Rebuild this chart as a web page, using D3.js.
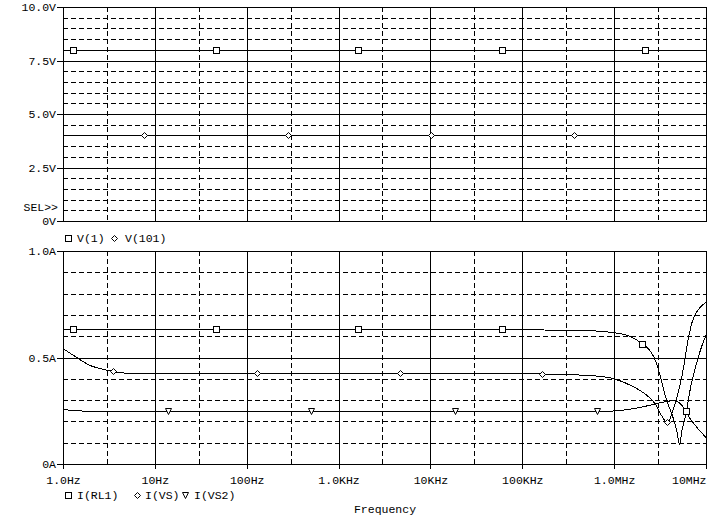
<!DOCTYPE html>
<html><head><meta charset="utf-8">
<script src="https://cdn.jsdelivr.net/npm/d3@7"></script>
<style>
html,body{margin:0;padding:0;background:#fff;}
svg{display:block;}
text{font-family:"Liberation Mono","DejaVu Sans Mono",monospace;font-size:11.5px;fill:#000;}
</style></head><body>
<svg id="c" width="715" height="518"></svg>
<script>
// ---------- DATA ----------
const freqTickLabels = ["1.0Hz","10Hz","100Hz","1.0KHz","10KHz","100KHz","1.0MHz","10MHz"];
const freqTickValues = [1,10,100,1e3,1e4,1e5,1e6,1e7];
const voltTickValues = [0,2.5,5,7.5,10];
const voltTickLabels = ["0V","2.5V","5.0V","7.5V","10.0V"];
const ampTickValues = [0,0.5,1];
const ampTickLabels = ["0A","0.5A","1.0A"];

// top panel traces
const v1Freq = [1, 1e7];
const v1Vals = [8, 8];
const v101Freq = [1, 1e7];
const v101Vals = [4, 4];
const v1Markers = [1.295, 46.4, 1641, 60600, 2.18e6];
const v101Markers = [7.62, 281, 10070, 365000];

// bottom panel traces
const rl1Freq = [1,10,100,1e3,1e4,1e5,3e5,5.5e5,7.0e5,9.7e5,1.49e6,2.01e6,2.45e6,2.9e6,3.16e6,3.73e6,4.23e6,4.8e6,5.15e6,5.48e6,6.05e6,6.86e6,7.78e6,8.82e6,1e7];
const rl1Vals = [0.632,0.632,0.632,0.632,0.632,0.632,0.631,0.629,0.625,0.619,0.601,0.566,0.535,0.474,0.418,0.301,0.240,0.161,0.095,0.161,0.240,0.371,0.465,0.544,0.605];
const vsFreq = [1,1.41,1.97,2.53,3.53,5.83,6.88,10,100,1e3,1e4,1e5,2.57e5,5.46e5,9.71e5,1.6e6,2.28e6,2.78e6,3.23e6,3.71e6,3.86e6,4.27e6,4.83e6,5.62e6,6.37e6,7.04e6,7.99e6,9.05e6,1e7];
const vsVals = [0.546,0.504,0.465,0.449,0.437,0.429,0.427,0.426,0.426,0.426,0.426,0.425,0.423,0.416,0.402,0.367,0.324,0.287,0.235,0.198,0.191,0.245,0.315,0.441,0.582,0.666,0.718,0.746,0.760];
const vs2Freq = [1,1.29,2.53,10,100,1e3,1e4,1e5,7.0e5,1.16e6,1.91e6,2.93e6,3.77e6,4.38e6,5.09e6,5.77e6,6.70e6,7.98e6,1e7];
const vs2Vals = [0.257,0.254,0.250,0.249,0.249,0.249,0.249,0.249,0.249,0.254,0.268,0.285,0.296,0.299,0.292,0.264,0.217,0.175,0.129];
const rl1Markers = [1.295, 46.4, 1641, 60600, 2.02e6, 6.1e6];
const vsMarkers = [3.53, 128, 4670, 165000, 3.73e6];
const vs2Markers = [14.0, 501, 18500, 645000];

// ---------- LAYOUT ----------
const L = 63, R = 706;
const svg = d3.select("#c");
const x = d3.scaleLog().domain([1,1e7]).range([L,R]);
const yTop = d3.scaleLinear().domain([0,10]).range([221,7]);
const yBot = d3.scaleLinear().domain([0,1]).range([464,251]);
const px = v => Math.round(v) + 0.5;

function valueAt(fs, vs, f){
  const lf = Math.log10(f);
  for (let i=0;i<fs.length-1;i++){
    const a=Math.log10(fs[i]), b=Math.log10(fs[i+1]);
    if (lf>=a && lf<=b){ const t=(lf-a)/(b-a); return vs[i]+(vs[i+1]-vs[i])*t; }
  }
  return vs[vs.length-1];
}

function drawMarker(g, type, cx, cy){
  cx = Math.round(cx); cy = Math.round(cy);
  const s = g.append("path").attr("fill","#fff").attr("stroke","#000").attr("stroke-width",1)
    .attr("shape-rendering","crispEdges");
  if (type==="square") s.attr("d",`M${cx-3+0.5},${cy-3+0.5}h6v6h-6Z`);
  else if (type==="diamond") s.attr("d",`M${cx+0.5},${cy-3+0.5}L${cx+3.5},${cy+0.5}L${cx+0.5},${cy+3.5}L${cx-2.5},${cy+0.5}Z`).attr("shape-rendering","auto");
  else s.attr("d",`M${cx-3+0.5},${cy-3+0.5}L${cx+3.5},${cy-3+0.5}L${cx+0.5},${cy+3.5}Z`).attr("shape-rendering","auto");
}

function panel(y, vmax, minorStep, majorStep, tickVals, tickLabels, traces){
  const g = svg.append("g");
  const [B,T] = y.range();
  const traceRows = traces.filter(t=>t.v.every(v=>v===t.v[0])).map(t=>px(y(t.v[0])));
  // horizontal grid
  const n = Math.round(vmax/minorStep);
  for (let i=1;i<n;i++){
    const v = i*minorStep;
    const yy = px(y(v));
    if (traceRows.includes(yy)) continue;
    const major = Math.abs(v/majorStep - Math.round(v/majorStep))<1e-6;
    g.append("line").attr("x1",L).attr("x2",R).attr("y1",yy).attr("y2",yy)
      .attr("stroke","#000").attr("shape-rendering","crispEdges")
      .attr("stroke-dasharray", major? null : "5,3");
  }
  // vertical grid
  for (let e=0;e<7;e++){
    const f3 = 3*Math.pow(10,e);
    g.append("line").attr("x1",px(x(f3))).attr("x2",px(x(f3))).attr("y1",T).attr("y2",B)
      .attr("stroke","#000").attr("shape-rendering","crispEdges").attr("stroke-dasharray","5,3");
    if (e>0){
      const f = Math.pow(10,e);
      g.append("line").attr("x1",px(x(f))).attr("x2",px(x(f))).attr("y1",T).attr("y2",B)
        .attr("stroke","#000").attr("shape-rendering","crispEdges");
    }
  }
  // frame
  g.append("rect").attr("x",L+0.5).attr("y",T+0.5).attr("width",R-L).attr("height",B-T)
    .attr("fill","none").attr("stroke","#000").attr("shape-rendering","crispEdges");
  // left axis
  const ax = d3.axisLeft(y).tickValues(tickVals).tickFormat((d,i)=>tickLabels[i])
    .tickSize(6).tickPadding(1).tickSizeOuter(0);
  const ag = g.append("g").attr("transform",`translate(${L},0)`).call(ax);
  ag.select(".domain").remove();
  ag.selectAll("line").attr("shape-rendering","crispEdges");
  ag.selectAll("text").attr("font-family",null).attr("font-size",null);
  // traces
  const line = d3.line().x(d=>x(d[0])).y(d=>px(y(d[1]))).curve(d3.curveMonotoneX);
  traces.forEach(tr=>{
    const pts = tr.f.map((f,i)=>[f,tr.v[i]]);
    g.append("path").attr("d",line(pts)).attr("fill","none").attr("stroke","#000")
      .attr("stroke-width",1).attr("shape-rendering","crispEdges");
  });
  traces.forEach(tr=>{
    tr.m.forEach(f=>drawMarker(g, tr.type, x(f), y(valueAt(tr.f,tr.v,f))));
  });
  return g;
}

panel(yTop, 10, 0.5, 2.5, voltTickValues, voltTickLabels, [
  {f:v1Freq, v:v1Vals, m:v1Markers, type:"square"},
  {f:v101Freq, v:v101Vals, m:v101Markers, type:"diamond"}
]);
panel(yBot, 1, 0.1, 0.5, ampTickValues, ampTickLabels, [
  {f:rl1Freq, v:rl1Vals, m:rl1Markers, type:"square"},
  {f:vsFreq, v:vsVals, m:vsMarkers, type:"diamond"},
  {f:vs2Freq, v:vs2Vals, m:vs2Markers, type:"triangle"}
]);

// SEL>> marker
svg.append("text").attr("x",58).attr("y",211).attr("text-anchor","end").text("SEL>>");

// bottom x axis
const xa = d3.axisBottom(x).tickValues(freqTickValues).tickFormat((d,i)=>freqTickLabels[i])
  .tickSize(5).tickPadding(7).tickSizeOuter(0);
const xg = svg.append("g").attr("transform","translate(0,464)").call(xa);
xg.select(".domain").remove();
xg.selectAll(".tick line").attr("y1",-4).attr("shape-rendering","crispEdges");
xg.selectAll("text").attr("font-family",null).attr("font-size",null)
  .attr("text-anchor",(d,i)=> i===freqTickValues.length-1 ? "end" : "middle");
for (let e=0;e<7;e++){
  const xx = px(x(3*Math.pow(10,e)));
  svg.append("line").attr("x1",xx).attr("x2",xx).attr("y1",460).attr("y2",464)
    .attr("stroke","#000").attr("shape-rendering","crispEdges");
}

// legends
function legend(y, items){
  items.forEach(it=>{
    drawMarker(svg, it.type, it.mx, y-4);
    svg.append("text").attr("x",it.tx).attr("y",y).text(it.label);
  });
}
legend(242, [
  {type:"square", mx:68, tx:77, label:"V(1)"},
  {type:"diamond", mx:114, tx:125, label:"V(101)"}
]);
legend(499, [
  {type:"square", mx:68, tx:77, label:"I(RL1)"},
  {type:"diamond", mx:137, tx:145, label:"I(VS)"},
  {type:"triangle", mx:185, tx:194, label:"I(VS2)"}
]);
svg.append("text").attr("x",385).attr("y",513).attr("text-anchor","middle").text("Frequency");
</script></body></html>
